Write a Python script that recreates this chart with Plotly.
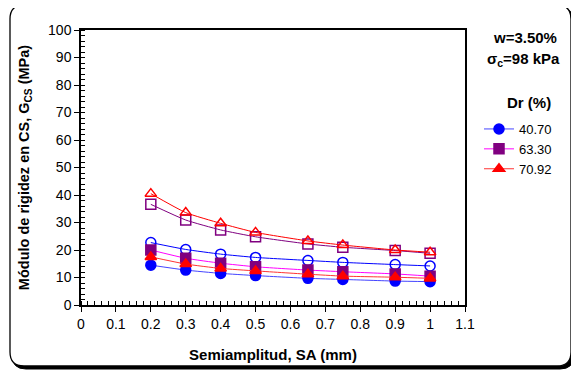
import plotly.graph_objects as go

# ---------------- data ----------------
sa = [0.2, 0.3, 0.4, 0.5, 0.65, 0.75, 0.9, 1.0]

dr_labels = ["40.70", "63.30", "70.92"]

# filled markers (legend series)
g_4070 = [14.5, 12.7, 11.5, 10.7, 9.7, 9.3, 8.7, 8.5]
g_6330 = [20.0, 17.0, 15.2, 13.9, 12.7, 12.1, 11.3, 10.5]
g_7092 = [17.5, 14.9, 13.3, 12.4, 11.2, 10.5, 10.1, 9.7]

# open markers (companion series, not in legend)
g_4070_open = [22.7, 20.2, 18.5, 17.3, 16.2, 15.5, 14.7, 14.2]
g_6330_open = [36.6, 30.9, 27.3, 24.8, 22.2, 21.0, 19.8, 18.8]
g_7092_open = [40.5, 33.6, 29.7, 26.4, 23.3, 21.8, 20.0, 19.2]

x_ticks = [0, 0.1, 0.2, 0.3, 0.4, 0.5, 0.6, 0.7, 0.8, 0.9, 1, 1.1]
x_ticktext = ["0", "0.1", "0.2", "0.3", "0.4", "0.5", "0.6", "0.7", "0.8", "0.9", "1", "1.1"]

FONT = "Arial, Liberation Sans, sans-serif"
OFF = 8  # page body margin offset
W, H = 579 - OFF, 372 - OFF
L, T = 81 - OFF, 30 - OFF
PW, PH = 465 - 81, 305 - 30
R = W - L - PW
B = H - T - PH

fig = go.Figure()

def add(y, name, sym, mcol, lcol, show, msize=10, lw=1):
    fig.add_trace(go.Scatter(
        x=sa, y=y, name=name, mode="lines+markers", showlegend=show,
        line=dict(color=lcol, width=lw, shape="spline", smoothing=0.5),
        marker=dict(symbol=sym, size=msize, color=mcol,
                    line=dict(color=mcol, width=1.5)),
    ))

add(g_4070_open, "o1", "circle-open", "#0000FF", "#0000FF", False)
add(g_6330_open, "o2", "square-open", "#800080", "#800080", False)
add(g_7092_open, "o3", "triangle-up-open", "#FF0000", "#FF0000", False)
add(g_4070, dr_labels[0], "circle", "#0000FF", "#4444FF", True)
add(g_6330, dr_labels[1], "square", "#800080", "#FF00FF", True)
add(g_7092, dr_labels[2], "triangle-up", "#FF0000", "#FF3333", True)

def px2paper(X, Y):
    # X, Y in reference-page pixels
    X -= OFF
    Y -= OFF
    return (X - L) / PW, (T + PH - Y) / PH

def rrect(x0, y0, x1, y1, r):
    def P(X, Y):
        a, b = px2paper(X, Y)
        return f"{a:.5f},{b:.5f}"
    return (f"M {P(x0 + r, y0)} L {P(x1 - r, y0)} Q {P(x1, y0)} {P(x1, y0 + r)} "
            f"L {P(x1, y1 - r)} Q {P(x1, y1)} {P(x1 - r, y1)} "
            f"L {P(x0 + r, y1)} Q {P(x0, y1)} {P(x0, y1 - r)} "
            f"L {P(x0, y0 + r)} Q {P(x0, y0)} {P(x0 + r, y0)} Z")

shapes = [
    dict(type="path", xref="paper", yref="paper", path=rrect(12, 8, 574, 369, 14),
         fillcolor="black", line=dict(color="black", width=1), layer="below"),
    dict(type="path", xref="paper", yref="paper", path=rrect(10, 5, 571, 366, 14),
         fillcolor="white", line=dict(color="black", width=1.3), layer="below"),
]

def ann(text, X, Y, size=15, bold=True, xanchor="center"):
    a, b = px2paper(X, Y)
    return dict(text=(f"<b>{text}</b>" if bold else text), x=a, y=b, xref="paper", yref="paper",
                showarrow=False, xanchor=xanchor, yanchor="middle",
                font=dict(family=FONT, size=size, color="black"))

lx, ly = px2paper(479, 114)

fig.update_layout(
    width=W, height=H,
    margin=dict(l=L, r=R, t=T, b=B),
    paper_bgcolor="white", plot_bgcolor="white",
    font=dict(family=FONT, size=14, color="black"),
    shapes=shapes,
    annotations=[
        ann("w=3.50%", 525, 38),
        ann("σ<sub>c</sub>=98 kPa", 523, 59),
        ann("Dr (%)", 529, 102),
    ],
    legend=dict(x=lx, y=ly, xanchor="left", yanchor="top", bgcolor="rgba(0,0,0,0)",
                font=dict(family=FONT, size=13), itemwidth=30, tracegroupgap=0),
    xaxis=dict(range=[0, 1.1], tickmode="array", tickvals=x_ticks, ticktext=x_ticktext,
               ticks="outside", ticklen=5, tickwidth=1, tickcolor="black",
               minor=dict(dtick=0.02, ticks="inside", ticklen=4, tickcolor="black", tickwidth=1),
               showline=True, linecolor="black", linewidth=1.5, mirror=True,
               showgrid=False, zeroline=False,
               tickfont=dict(family=FONT, size=14),
               title=dict(text="<b>Semiamplitud, SA (mm)</b>", font=dict(family=FONT, size=15), standoff=19)),
    yaxis=dict(range=[0, 100], dtick=10,
               ticks="outside", ticklen=5, tickwidth=1, tickcolor="black",
               minor=dict(dtick=2, ticks="inside", ticklen=4, tickcolor="black", tickwidth=1),
               showline=True, linecolor="black", linewidth=1.5, mirror=True,
               showgrid=False, zeroline=False,
               tickfont=dict(family=FONT, size=14),
               title=dict(text="<b>Módulo de rigidez en CS, G<sub>CS</sub> (MPa)</b>",
                          font=dict(family=FONT, size=14.5), standoff=15)),
)

fig.write_html("out.html")
